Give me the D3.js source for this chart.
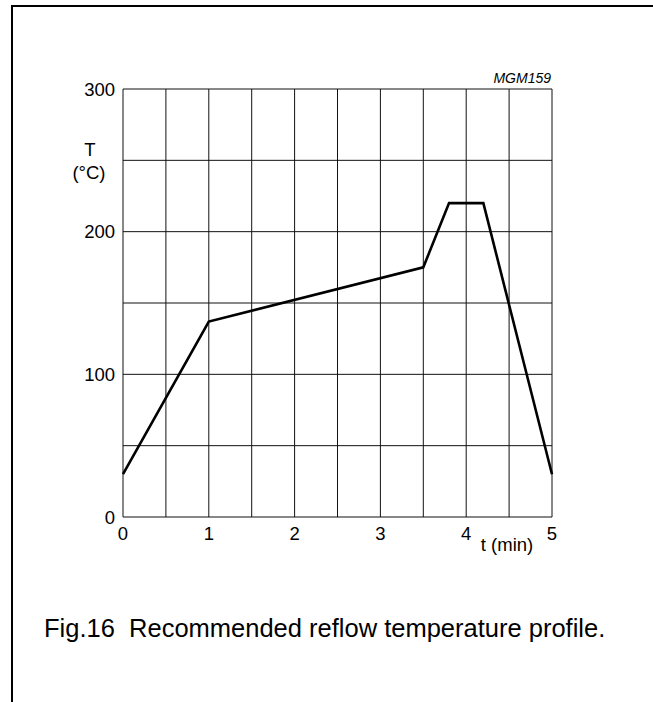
<!DOCTYPE html>
<html>
<head>
<meta charset="utf-8">
<script src="https://cdn.jsdelivr.net/npm/d3@7"></script>
<style>
html,body{margin:0;padding:0;background:#fff;}
svg{display:block;}
text{font-family:Arial,"Liberation Sans",Helvetica,sans-serif;fill:#000;}
</style>
</head>
<body>
<svg id="chart" width="653" height="702"></svg>
<script>
// Data
const timeMin = [0, 1, 3.5, 3.8, 4.2, 5];
const tempC = [30, 137, 175, 220, 220, 30];
const xTicks = [0, 1, 2, 3, 4, 5];
const yTicks = [0, 100, 200, 300];
const xGrid = [0, 0.5, 1, 1.5, 2, 2.5, 3, 3.5, 4, 4.5, 5];
const yGrid = [0, 50, 100, 150, 200, 250, 300];

const svg = d3.select("#chart");
const W = 653, H = 702;

// frame (top and left border)
svg.append("line").attr("x1", 11).attr("x2", W).attr("y1", 6).attr("y2", 6)
  .attr("stroke", "#000").attr("stroke-width", 2);
svg.append("line").attr("x1", 12).attr("x2", 12).attr("y1", 5).attr("y2", H)
  .attr("stroke", "#000").attr("stroke-width", 2);

const x = d3.scaleLinear().domain([0, 5]).range([123, 552]);
const y = d3.scaleLinear().domain([0, 300]).range([517, 89]);

const g = svg.append("g");
// grid
g.selectAll("line.vg").data(xGrid).enter().append("line")
  .attr("x1", d => x(d)).attr("x2", d => x(d))
  .attr("y1", y(0)).attr("y2", y(300))
  .attr("stroke", "#111").attr("stroke-width", 1);
g.selectAll("line.hg").data(yGrid).enter().append("line")
  .attr("x1", x(0)).attr("x2", x(5))
  .attr("y1", d => y(d)).attr("y2", d => y(d))
  .attr("stroke", "#111").attr("stroke-width", 1);

const fs = 18.5;
// y tick labels
g.selectAll("text.yt").data(yTicks).enter().append("text")
  .attr("x", 115).attr("y", d => y(d) + 6.5)
  .attr("text-anchor", "end").attr("font-size", fs)
  .text(d => d);
// x tick labels
g.selectAll("text.xt").data(xTicks).enter().append("text")
  .attr("x", d => x(d)).attr("y", 540)
  .attr("text-anchor", "middle").attr("font-size", fs)
  .text(d => d);

// axis titles
svg.append("text").attr("x", 90).attr("y", 156).attr("text-anchor", "middle")
  .attr("font-size", fs).text("T");
svg.append("text").attr("x", 89).attr("y", 179).attr("text-anchor", "middle")
  .attr("font-size", fs).text("(°C)");
svg.append("text").attr("x", 507).attr("y", 551).attr("text-anchor", "middle")
  .attr("font-size", fs).text("t (min)");
svg.append("text").attr("x", 551).attr("y", 83).attr("text-anchor", "end")
  .attr("font-size", 14).attr("font-style", "italic").text("MGM159");

// curve
const pts = timeMin.map((t, i) => [t, tempC[i]]);
g.append("path").datum(pts)
  .attr("d", d3.line().x(d => x(d[0])).y(d => y(d[1])))
  .attr("fill", "none").attr("stroke", "#000").attr("stroke-width", 2.6)
  .attr("stroke-linejoin", "miter");

// caption
svg.append("text").attr("x", 44).attr("y", 637)
  .attr("font-size", 25.5).text("Fig.16  Recommended reflow temperature profile.")
  .attr("xml:space", "preserve").style("white-space", "pre");
</script>
</body>
</html>
